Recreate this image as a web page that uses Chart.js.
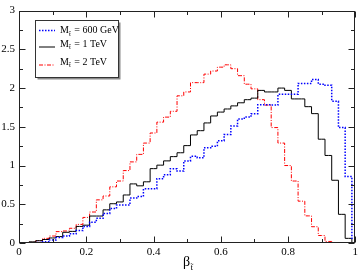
<!DOCTYPE html>
<html>
<head>
<meta charset="utf-8">
<script src="https://cdn.jsdelivr.net/npm/chart.js@4/dist/chart.umd.min.js"></script>
<style>
  html, body { margin: 0; padding: 0; background: #fff; }
  #wrap { width: 361px; height: 275px; }
</style>
</head>
<body>
<div id="wrap"><canvas id="chart" width="361" height="275"></canvas></div>
<script>
// ── data ─────────────────────────────────────────────
// bin centres of the histogram (beta of the stop)
const BETA = [
  0.00, 0.02, 0.04, 0.06, 0.08, 0.10, 0.12, 0.14, 0.16, 0.18,
  0.20, 0.22, 0.24, 0.26, 0.28, 0.30, 0.32, 0.34, 0.36, 0.38,
  0.40, 0.42, 0.44, 0.46, 0.48, 0.50, 0.52, 0.54, 0.56, 0.58,
  0.60, 0.62, 0.64, 0.66, 0.68, 0.70, 0.72, 0.74, 0.76, 0.78,
  0.80, 0.82, 0.84, 0.86, 0.88, 0.90, 0.92, 0.94, 0.96, 0.98,
  1.00,
];

const MASS_LABELS = ['600 GeV', '1 TeV', '2 TeV'];

const M600 = [
  0,     0,     0,     0.005, 0.015, 0.04,  0.07,  0.09,  0.12,  0.16,
  0.214, 0.268, 0.318, 0.38,  0.444, 0.49,  0.49,  0.58,  0.60,  0.70,
  0.70,  0.83,  0.88,  0.96,  0.93,  1.06,  1.12,  1.10,  1.23,  1.25,
  1.32,  1.40,  1.51,  1.60,  1.625, 1.67,  1.785, 1.785, 1.78,  1.92,
  1.92,  1.92,  2.06,  2.06,  2.11,  2.05,  2.035, 1.83,  1.49,  0.86,
  0.06,
];

const M1000 = [
  0,     0.003, 0.015, 0.03,  0.045, 0.065, 0.083, 0.138, 0.15,  0.214,
  0.23,  0.348, 0.348, 0.428, 0.507, 0.53,  0.62,  0.763, 0.738, 0.79,
  0.96,  1.005, 1.06,  1.115, 1.165, 1.257, 1.395, 1.45,  1.55,  1.64,
  1.69,  1.73,  1.77,  1.81,  1.85,  1.87,  1.97,  1.95,  1.95,  2.00,
  1.97,  1.86,  1.86,  1.76,  1.67,  1.34,  1.13,  0.81,  0.37,  0.06,
  0,
];

const M2000 = [
  0,     0.005, 0.01,  0.03,  0.06,  0.09,  0.147, 0.155, 0.19,  0.24,
  0.33,  0.40,  0.557, 0.607, 0.725, 0.80,  0.935, 1.047, 1.144, 1.29,
  1.42,  1.56,  1.625, 1.70,  1.90,  1.95,  2.07,  2.07,  2.18,  2.22,
  2.27,  2.30,  2.25,  2.16,  2.05,  1.99,  1.85,  1.78,  1.49,  1.29,
  1.00,  0.80,  0.54,  0.35,  0.21,  0.097, 0.02,  0,     0,     0,
  0,
];

const X_TICKS = [0, 0.2, 0.4, 0.6, 0.8, 1];
const X_TICK_LABELS = ['0', '0.2', '0.4', '0.6', '0.8', '1'];
const X_MINOR = [0.1, 0.3, 0.5, 0.7, 0.9];
const Y_TICKS = [0, 0.5, 1, 1.5, 2, 2.5, 3];
const Y_TICK_LABELS = ['0', '0.5', '1', '1.5', '2', '2.5', '3'];
const Y_MINOR = [0.25, 0.75, 1.25, 1.75, 2.25, 2.75];

const SERIF = '"Liberation Serif", "DejaVu Serif", serif';

function toPoints(ys) {
  return BETA.map((x, i) => ({ x, y: ys[i] }));
}

// ── frame, inward ticks on all four sides, axis title ─
const framePlugin = {
  id: 'frame',
  afterDatasetsDraw(chart) {
    const { ctx, chartArea: a, scales: { x, y } } = chart;
    const L = Math.round(a.left) + 0.5, R = Math.round(a.right) - 0.5;
    const T = Math.round(a.top) + 0.5, B = Math.round(a.bottom) - 0.5;
    ctx.save();
    ctx.strokeStyle = '#222';
    ctx.lineWidth = 1;
    ctx.setLineDash([]);
    ctx.strokeRect(L, T, R - L, B - T);

    const tick = (x1, y1, x2, y2) => {
      ctx.beginPath(); ctx.moveTo(x1, y1); ctx.lineTo(x2, y2); ctx.stroke();
    };
    const xt = (vals, len) => vals.forEach(v => {
      const px = Math.round(x.getPixelForValue(v)) + 0.5;
      tick(px, B, px, B - len);
      tick(px, T, px, T + len);
    });
    const yt = (vals, len) => vals.forEach(v => {
      const py = Math.round(y.getPixelForValue(v)) + 0.5;
      tick(L, py, L + len, py);
      tick(R, py, R - len, py);
    });
    xt(X_TICKS, 6); xt(X_MINOR, 3.5);
    yt(Y_TICKS, 6); yt(Y_MINOR, 3.5);

    // x axis title: beta with subscript stop
    ctx.fillStyle = '#000';
    ctx.textBaseline = 'alphabetic';
    ctx.textAlign = 'left';
    ctx.font = '14px ' + SERIF;
    const bx = 183, by = 266;
    ctx.fillText('β', bx, by);
    const bw = ctx.measureText('β').width;
    ctx.font = '9px ' + SERIF;
    ctx.fillText('t\u0303', bx + bw + 0.5, by + 4);
    ctx.restore();
  },
};

// ── legend box with shadow ───────────────────────────
const legendPlugin = {
  id: 'boxLegend',
  afterDraw(chart) {
    const ctx = chart.ctx;
    const box = { x: 35.5, y: 20.5, w: 83, h: 57 };
    const rows = [30, 46.5, 64.5];
    ctx.save();
    ctx.fillStyle = '#8a8a8a';
    ctx.fillRect(box.x + 2, box.y + 2, box.w, box.h);
    ctx.fillStyle = '#fff';
    ctx.fillRect(box.x, box.y, box.w, box.h);
    ctx.strokeStyle = '#333';
    ctx.lineWidth = 1;
    ctx.strokeRect(box.x, box.y, box.w, box.h);

    chart.data.datasets.forEach((ds, i) => {
      const ly = rows[i] + 0.5;
      ctx.strokeStyle = ds.borderColor;
      ctx.lineWidth = ds.borderWidth;
      ctx.setLineDash(ds.borderDash || []);
      ctx.beginPath(); ctx.moveTo(39, ly); ctx.lineTo(55, ly); ctx.stroke();
      ctx.setLineDash([]);

      ctx.fillStyle = '#000';
      ctx.textBaseline = 'alphabetic';
      ctx.textAlign = 'left';
      let tx = 60;
      const base = rows[i] + (i === 0 ? 3 : 0);
      ctx.font = '10px ' + SERIF;
      ctx.fillText('M', tx, base);
      tx += ctx.measureText('M').width;
      ctx.font = '7px ' + SERIF;
      ctx.fillText('t\u0303', tx, base + 2.5);
      tx += ctx.measureText('t\u0303').width + 1;
      ctx.font = '10px ' + SERIF;
      ctx.fillText(' = ' + ds.label, tx, base);
    });
    ctx.restore();
  },
};

new Chart(document.getElementById('chart'), {
  type: 'line',
  data: {
    datasets: [
      {
        label: MASS_LABELS[0], data: toPoints(M600),
        borderColor: '#0000ff', borderWidth: 1.5, borderDash: [1.5, 1.5],
      },
      {
        label: MASS_LABELS[1], data: toPoints(M1000),
        borderColor: '#000000', borderWidth: 1,
      },
      {
        label: MASS_LABELS[2], data: toPoints(M2000),
        borderColor: '#ff0000', borderWidth: 1, borderDash: [4, 1.5, 1, 1.5],
      },
    ],
  },
  options: {
    responsive: false,
    animation: false,
    devicePixelRatio: 1,
    layout: { padding: { top: 4, right: 4, left: 0, bottom: 0 } },
    elements: {
      line: { stepped: 'middle', fill: false, tension: 0 },
      point: { radius: 0, hoverRadius: 0 },
    },
    plugins: {
      legend: { display: false },
      tooltip: { enabled: false },
    },
    scales: {
      x: {
        type: 'linear', min: 0, max: 1,
        grid: { display: false, drawTicks: false },
        border: { display: false },
        afterBuildTicks: s => { s.ticks = X_TICKS.map(v => ({ value: v })); },
        afterFit: s => { s.height = 32; },
        ticks: {
          padding: 3, color: '#000', maxRotation: 0,
          font: { family: SERIF, size: 11 },
          callback: (v, i) => X_TICK_LABELS[i],
        },
      },
      y: {
        type: 'linear', min: 0, max: 3,
        grid: { display: false, drawTicks: false },
        border: { display: false },
        afterBuildTicks: s => { s.ticks = Y_TICKS.map(v => ({ value: v })); },
        afterFit: s => { s.width = 19; },
        ticks: {
          padding: 4, color: '#000',
          font: { family: SERIF, size: 11 },
          callback: (v, i) => Y_TICK_LABELS[i],
        },
      },
    },
  },
  plugins: [framePlugin, legendPlugin],
});
</script>
</body>
</html>
